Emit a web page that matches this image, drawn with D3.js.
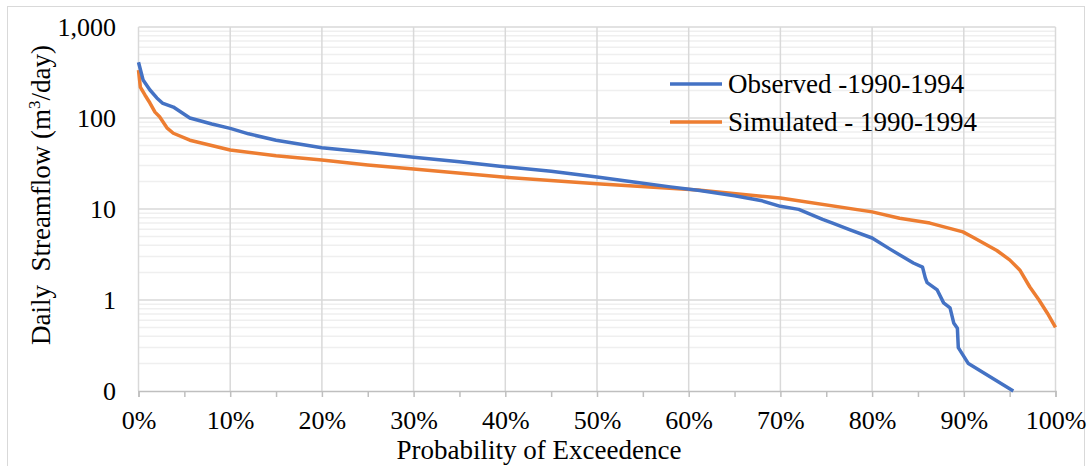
<!DOCTYPE html>
<html>
<head>
<meta charset="utf-8">
<script src="https://cdn.jsdelivr.net/npm/d3@7"></script>
<style>
  body { margin: 0; background: #fff; }
  text { font-family: "Liberation Serif", "Times New Roman", serif; fill: #000; }
</style>
</head>
<body>
<div id="chart"></div>
<script>
// exceedance probability (%) and daily streamflow (m3/day)
var obsX = [0, 0.5, 1.25, 2, 2.6, 3.8, 5.6, 8, 10, 12, 15, 20, 25, 30, 35, 39.4, 45, 50, 54, 58, 61.2, 65, 68, 70, 72, 74.6, 75.7, 77.6, 80, 82, 84.5, 85.5, 85.8, 86, 87.1, 87.8, 88.5, 88.9, 89.3, 89.4, 90.5, 95.4];
var obsY = [410, 262, 203, 166, 146, 132, 100, 86, 77, 67, 57, 47, 42, 37, 33, 29.5, 26, 22.5, 19.8, 17.5, 16, 14, 12.3, 10.7, 9.9, 7.7, 7.0, 5.9, 4.8, 3.6, 2.55, 2.3, 1.75, 1.55, 1.29, 0.93, 0.82, 0.56, 0.49, 0.30, 0.20, 0.1];

var simX = [0, 0.2, 0.7, 1.25, 1.8, 2.3, 3.1, 3.8, 5.6, 10, 15, 20, 25, 30, 40, 50, 61, 70, 80, 83, 86.3, 89.9, 91, 93.6, 95, 96.1, 97.2, 98.2, 99.1, 100];
var simY = [336, 219, 179, 146, 116, 103, 78, 68, 57, 44.5, 38.5, 34.5, 30.5, 27.5, 22.3, 19, 16.2, 13.2, 9.3, 7.9, 7.0, 5.6, 4.9, 3.5, 2.76, 2.14, 1.39, 1.0, 0.72, 0.5];

var seriesNames = ["Observed -1990-1994", "Simulated - 1990-1994"];
var seriesColors = ["#4472C4", "#ED7D31"];
var xTicks = [0, 10, 20, 30, 40, 50, 60, 70, 80, 90, 100];
var yTicks = [0.1, 1, 10, 100, 1000];

var width = 1091;
var height = 466;
var plotLeft = 138.5, plotRight = 1055.5, plotTop = 27, plotBottom = 391;

var svg = d3.select("#chart")
    .append("svg")
    .attr("width", width)
    .attr("height", height);

// outer chart border
svg.append("rect")
    .attr("x", 7.5)
    .attr("y", 6.5)
    .attr("width", 1077)
    .attr("height", 470)
    .style("fill", "none")
    .style("stroke", "#d9d9d9")
    .style("stroke-width", 1);

var x = d3.scaleLinear().domain([0, 100]).range([plotLeft, plotRight]);
var y = d3.scaleLog().domain([0.1, 1000]).range([plotBottom, plotTop]);

// minor horizontal gridlines
var minor = [];
[0.1, 1, 10, 100].forEach(function(d){
    for (var k = 2; k <= 9; k++) minor.push(d * k);
});
svg.append("g").selectAll("line")
    .data(minor)
    .enter().append("line")
    .attr("x1", plotLeft).attr("x2", plotRight)
    .attr("y1", function(d){ return y(d); })
    .attr("y2", function(d){ return y(d); })
    .style("stroke", "#efefef")
    .style("stroke-width", 1.5);

// major gridlines
svg.append("g").selectAll("line")
    .data(yTicks.slice(1))
    .enter().append("line")
    .attr("x1", plotLeft).attr("x2", plotRight)
    .attr("y1", function(d){ return y(d); })
    .attr("y2", function(d){ return y(d); })
    .style("stroke", "#d9d9d9")
    .style("stroke-width", 1.5);

svg.append("g").selectAll("line")
    .data(xTicks)
    .enter().append("line")
    .attr("x1", function(d){ return x(d); })
    .attr("x2", function(d){ return x(d); })
    .attr("y1", plotTop).attr("y2", plotBottom)
    .style("stroke", "#d9d9d9")
    .style("stroke-width", 1.5);

// bottom axis with 5% tick marks
var xAxis = d3.axisBottom(x)
    .tickValues(d3.range(0, 101, 5))
    .tickSize(6)
    .tickFormat(function(d){ return d % 10 === 0 ? d + "%" : ""; });

var gx = svg.append("g")
    .attr("transform", "translate(0," + plotBottom + ")")
    .call(xAxis);
gx.select(".domain").style("stroke", "#bfbfbf").style("stroke-width", 1.5);
gx.selectAll(".tick line").style("stroke", "#bfbfbf").style("stroke-width", 1.5);
gx.selectAll(".tick text")
    .attr("y", 20)
    .style("font-size", "26px")
    .style("font-family", "Liberation Serif");

// left tick labels
var fmt = d3.format(",.0f");
svg.append("g").selectAll("text")
    .data(yTicks)
    .enter().append("text")
    .attr("x", 116)
    .attr("y", function(d){ return y(d); })
    .attr("dy", "0.35em")
    .attr("text-anchor", "end")
    .style("font-size", "26px")
    .text(function(d){ return fmt(d); });

// lines
var line = d3.line()
    .x(function(d){ return x(d[0]); })
    .y(function(d){ return y(d[1]); });

var obs = d3.zip(obsX, obsY);
var sim = d3.zip(simX, simY);

svg.append("path")
    .datum(sim)
    .attr("d", line)
    .style("fill", "none")
    .style("stroke", seriesColors[1])
    .style("stroke-width", 3.5)
    .style("stroke-linejoin", "round");

svg.append("path")
    .datum(obs)
    .attr("d", line)
    .style("fill", "none")
    .style("stroke", seriesColors[0])
    .style("stroke-width", 3.5)
    .style("stroke-linejoin", "round");

// legend
var legend = svg.append("g").attr("transform", "translate(670,84)");
seriesNames.forEach(function(name, i){
    legend.append("line")
        .attr("x1", 0).attr("x2", 52)
        .attr("y1", i * 38).attr("y2", i * 38)
        .style("stroke", seriesColors[i])
        .style("stroke-width", 3.5);
    legend.append("text")
        .attr("x", 58)
        .attr("y", i * 38)
        .attr("dy", "0.35em")
        .style("font-size", "27px")
        .text(name);
});

// axis titles
svg.append("text")
    .attr("text-anchor", "middle")
    .attr("x", (plotLeft + plotRight) / 2 - 58)
    .attr("y", 459)
    .style("font-size", "27px")
    .text("Probability of Exceedence");

var yl = svg.append("text")
    .attr("text-anchor", "middle")
    .attr("transform", "translate(50,195) rotate(-90)")
    .style("font-size", "27px")
    .style("white-space", "pre");
yl.append("tspan").text("Daily  Streamflow (m");
yl.append("tspan").attr("dy", -10).style("font-size", "17px").text("3");
yl.append("tspan").attr("dy", 10).text("/day)");
</script>
</body>
</html>
